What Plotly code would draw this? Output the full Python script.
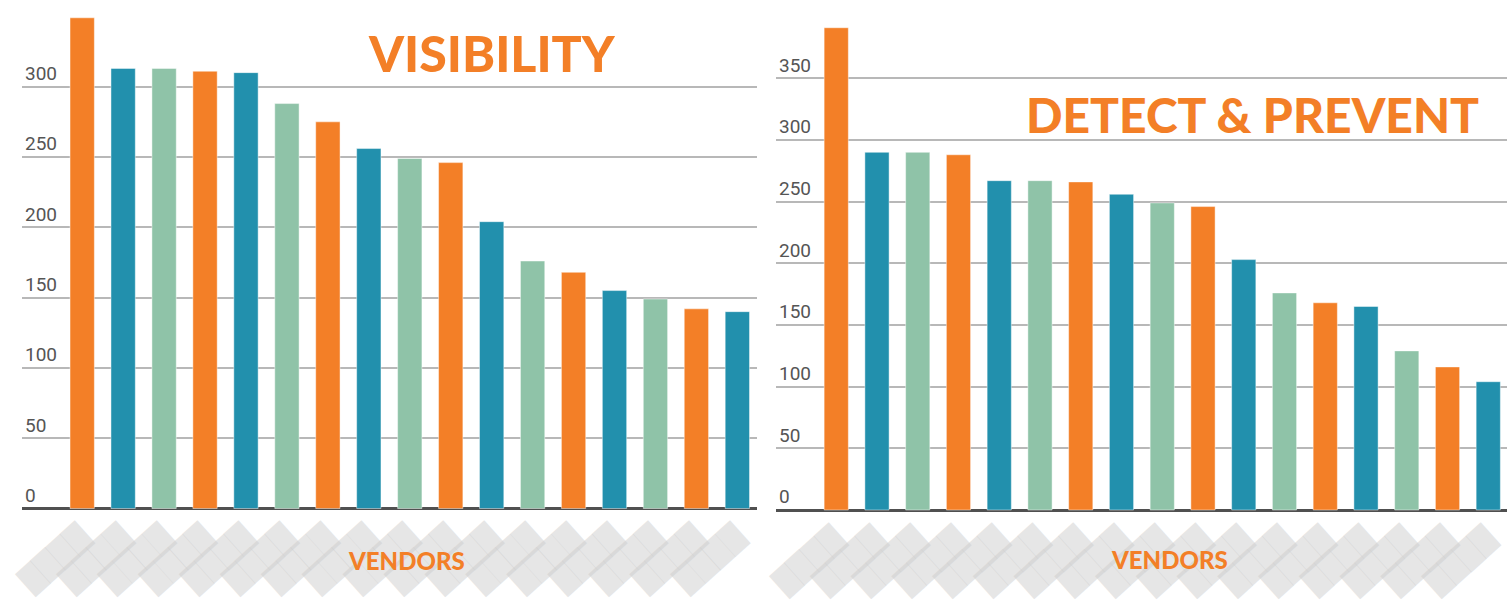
import plotly.graph_objects as go

# ---------------- data ----------------
vendors = [f"Vendor {i}" for i in range(1, 18)]
vendor_ticktext = ["████"] * 17  # anonymised (blurred) vendor names

visibility_values = [349, 313, 313, 311, 310, 288, 275, 256, 249, 246, 204, 176, 168, 155, 149, 142, 140]
detect_values = [391, 290, 290, 288, 267, 267, 266, 256, 249, 246, 203, 176, 168, 165, 129, 116, 104]

left_tickvals = [0, 50, 100, 150, 200, 250, 300]
right_tickvals = [0, 50, 100, 150, 200, 250, 300, 350]

ORANGE = "#F37F27"
TEAL = "#2290AD"
SAGE = "#8FC3A8"
palette = [ORANGE, TEAL, SAGE]
bar_colors = [palette[i % 3] for i in range(len(vendors))]

W, H = 1507, 603

fig = go.Figure()

fig.add_trace(go.Bar(x=vendors, y=visibility_values, marker=dict(color=bar_colors,
                     line=dict(color="rgba(255,255,255,0.45)", width=1)),
                     xaxis="x", yaxis="y", showlegend=False))
fig.add_trace(go.Bar(x=vendors, y=detect_values, marker=dict(color=bar_colors,
                     line=dict(color="rgba(255,255,255,0.45)", width=1)),
                     xaxis="x2", yaxis="y2", showlegend=False))

# pixel geometry helpers
def xdom(a, b):
    return [a / W, b / W]

def ydom(top, bottom):
    return [(H - bottom) / H, (H - top) / H]

# left panel: zero at 508.5 px, 1.406 px/unit, area 17..515
l_zero, l_scale, l_top, l_bot = 508.5, 1.406, 17, 515
# right panel: zero at 510 px, 1.2334 px/unit, area 0..517
r_zero, r_scale, r_top, r_bot = 510.0, 1.2334, 0, 517

yaxis_common = dict(
    showgrid=True, gridcolor="#b8b8b8", gridwidth=1.5,
    zeroline=True, zerolinecolor="#505050", zerolinewidth=3,
    ticks="", ticklabelposition="inside top",
    tickfont=dict(family="Roboto", size=19, color="#555555"),
    showline=False, fixedrange=True, automargin=False,
)
xaxis_common = dict(
    type="category", showgrid=False, zeroline=False, showline=False,
    ticks="", tickangle=-42, tickvals=vendors, ticktext=vendor_ticktext,
    tickfont=dict(family="DejaVu Sans", size=26, color="rgba(205,205,205,0.5)"),
    automargin=False,
)

fig.update_layout(
    width=W, height=H,
    margin=dict(l=0, r=0, t=0, b=0),
    paper_bgcolor="white", plot_bgcolor="white",
    bargap=0.406,
    xaxis=dict(domain=xdom(22, 757), range=[-1.47, 16.48], anchor="y", **xaxis_common),
    yaxis=dict(domain=ydom(l_top, l_bot),
               range=[-(l_bot - l_zero) / l_scale, (l_zero - l_top) / l_scale],
               tickvals=left_tickvals, anchor="x", **yaxis_common),
    xaxis2=dict(domain=xdom(776, 1507), range=[-1.478, 16.46], anchor="y2", **xaxis_common),
    yaxis2=dict(domain=ydom(r_top, r_bot),
                range=[-(r_bot - r_zero) / r_scale, (r_zero - r_top) / r_scale],
                tickvals=right_tickvals, anchor="x2", **yaxis_common),
)

title_font = dict(family="Lato", size=50, color=ORANGE, weight=900)
fig.add_annotation(text="VISIBILITY", xref="paper", yref="paper",
                   x=492.5 / W, y=1 - 53 / H, xanchor="center", yanchor="middle",
                   showarrow=False, font=title_font)
fig.add_annotation(text="DETECT &amp; PREVENT", xref="paper", yref="paper",
                   x=1252.5 / W, y=1 - 114 / H, xanchor="center", yanchor="middle",
                   showarrow=False, font=dict(family="Lato", size=48, color=ORANGE, weight=900))

vend_font = dict(family="Lato", size=24, color=ORANGE, weight=900)
fig.add_annotation(text="VENDORS", xref="paper", yref="paper",
                   x=406 / W, y=1 - 560 / H, xanchor="center", yanchor="middle",
                   showarrow=False, font=vend_font)
fig.add_annotation(text="VENDORS", xref="paper", yref="paper",
                   x=1169 / W, y=1 - 559 / H, xanchor="center", yanchor="middle",
                   showarrow=False, font=vend_font)

fig.write_html("out.html")
